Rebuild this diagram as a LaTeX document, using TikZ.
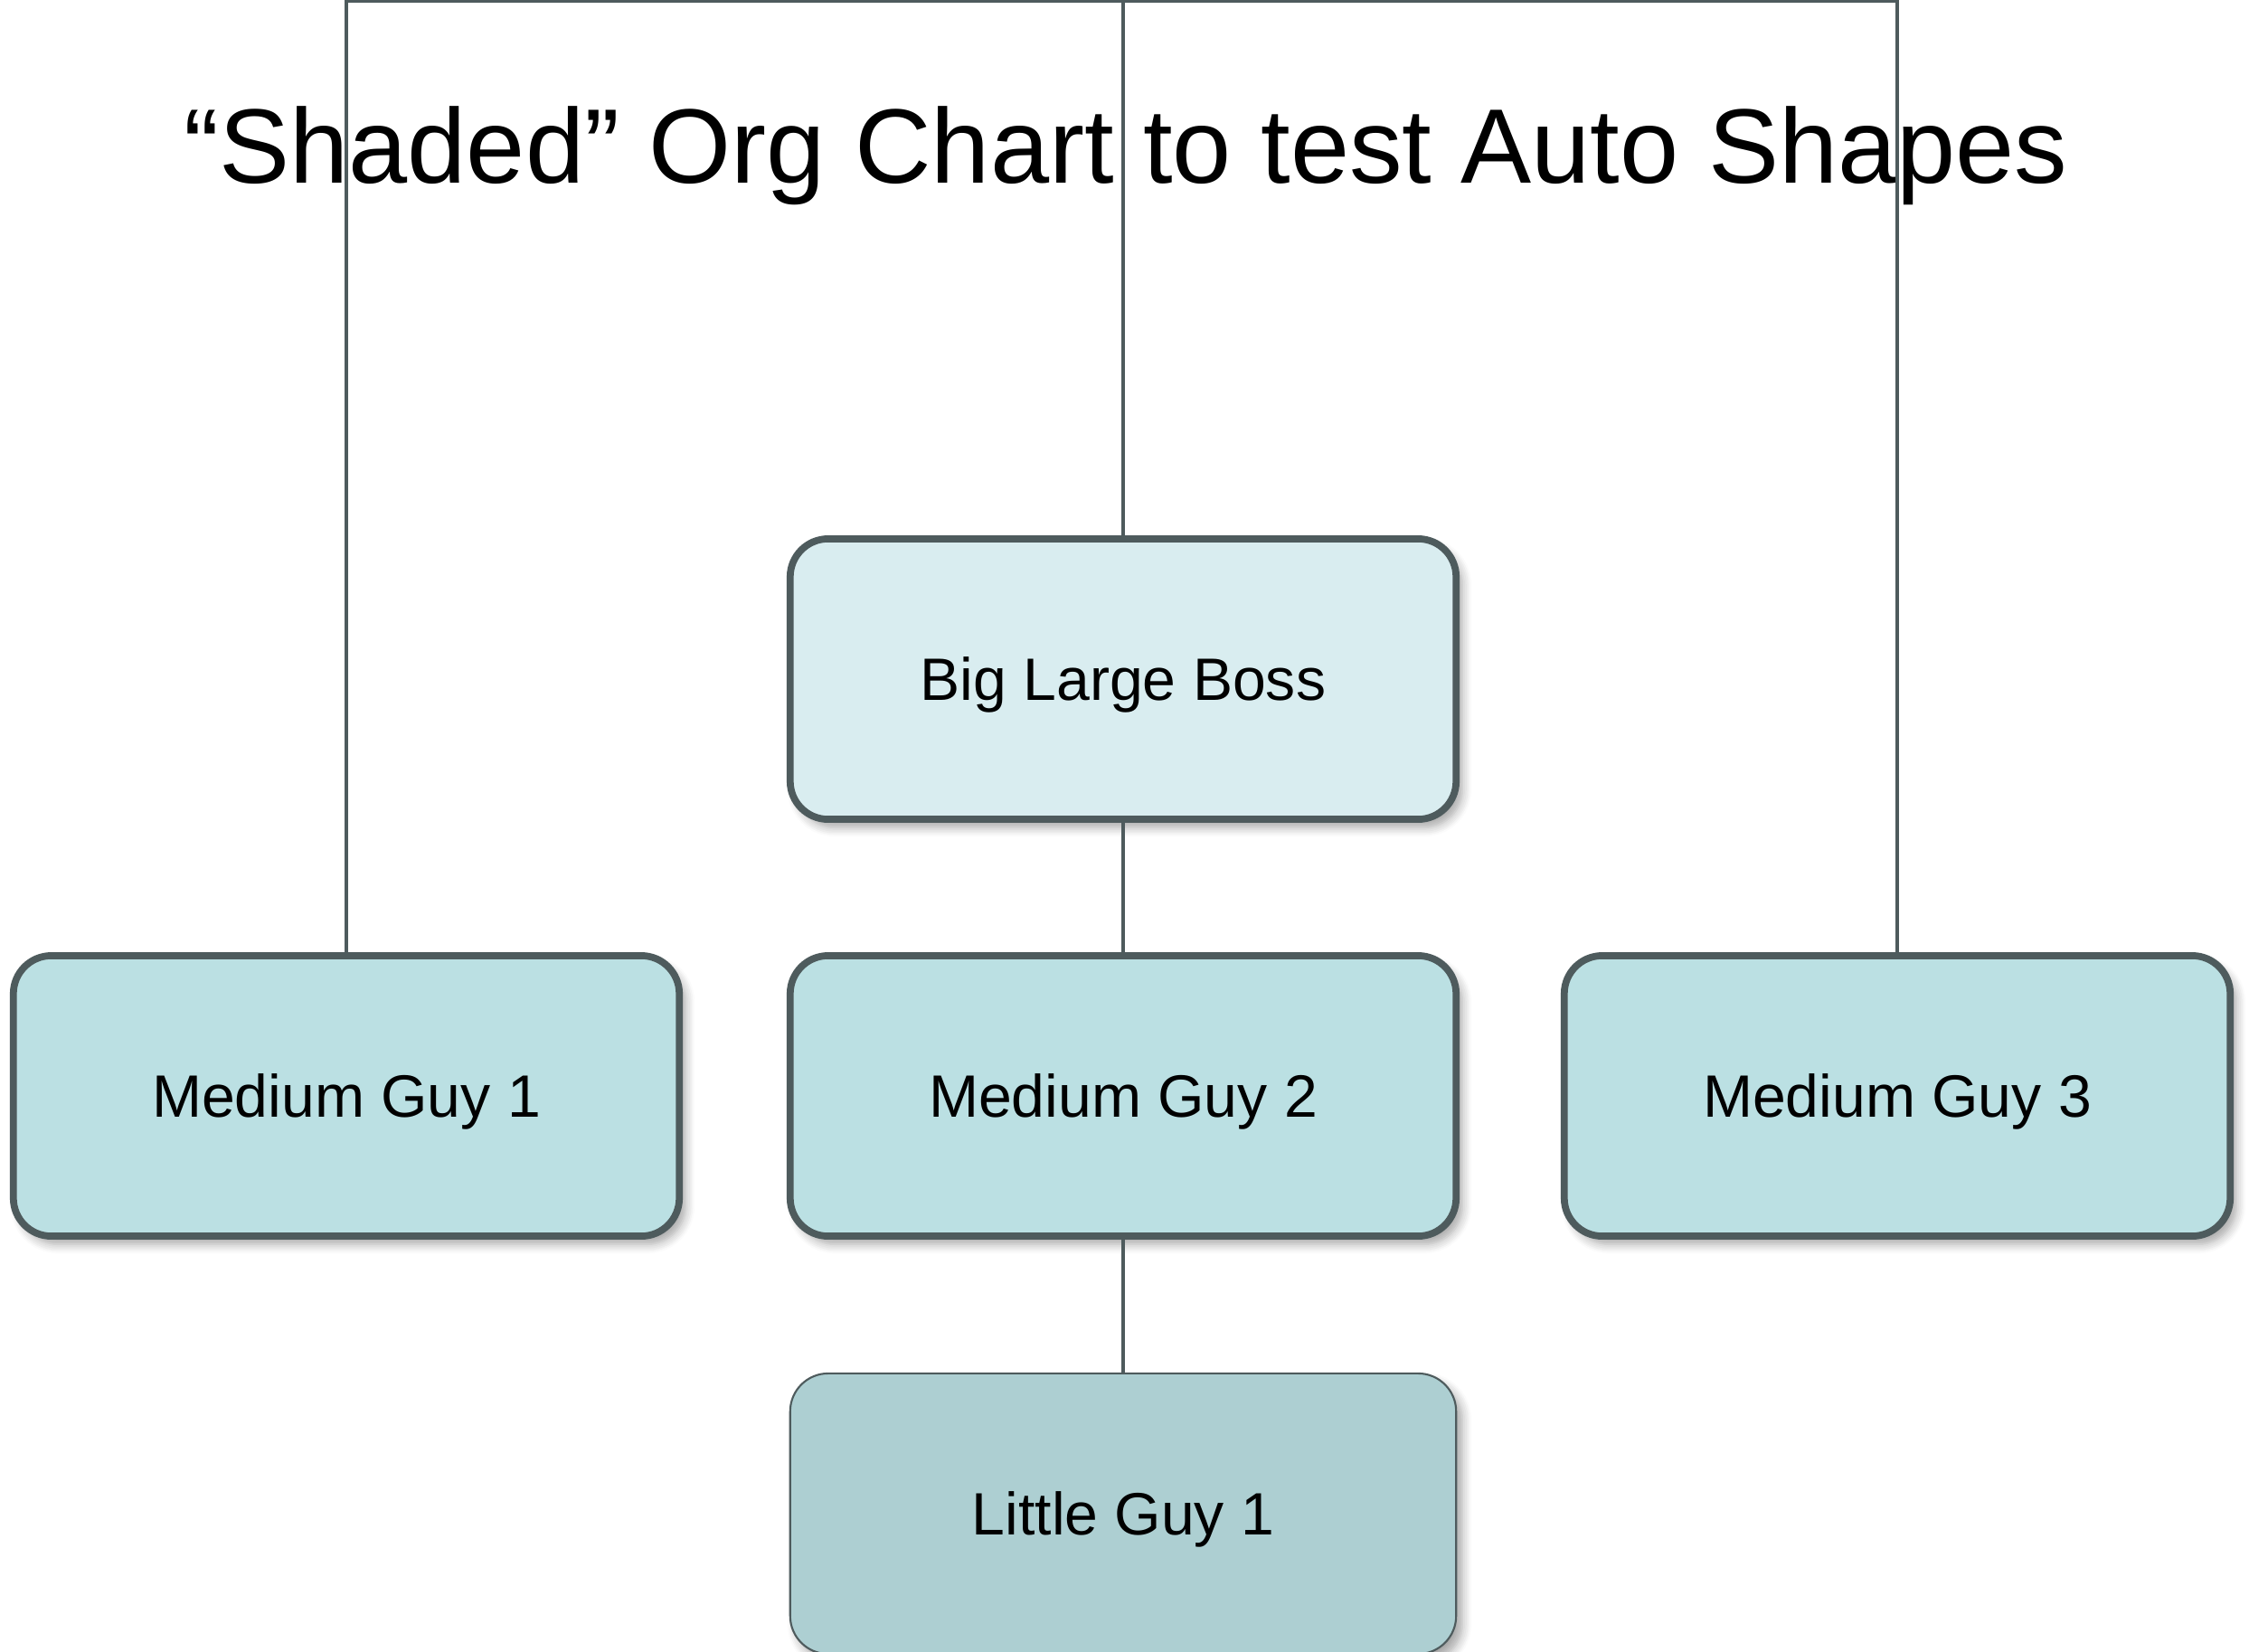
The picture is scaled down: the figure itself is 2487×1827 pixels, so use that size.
\documentclass[tikz,border=0pt]{standalone}
\usepackage{fontspec}
\setmainfont{Liberation Sans}
\usetikzlibrary{shadows.blur}
\definecolor{linec}{HTML}{4E5B5D}
\definecolor{bossfill}{HTML}{D9EDF0}
\definecolor{medfill}{HTML}{BBE0E3}
\definecolor{litfill}{HTML}{ADCFD2}
\tikzset{
  orgbox/.style={rectangle, rounded corners=0.42cm, draw=linec, line width=2.2pt,
    minimum width=7.36cm, minimum height=3.10cm, inner sep=0pt,
    text height=13.5pt, text depth=0pt,
    font=\fontsize{18.8}{22}\selectfont,
    blur shadow={shadow xshift=0.7mm, shadow yshift=-0.9mm, shadow blur radius=1.0mm, shadow blur steps=6, shadow opacity=35}},
  bossbox/.style={orgbox, fill=bossfill},
  medbox/.style={orgbox, fill=medfill},
  litbox/.style={orgbox, fill=litfill, line width=0.6pt},
  conn/.style={draw=linec, line width=1.3pt},
  titletext/.style={font=\fontsize{33.3}{40}\selectfont, inner sep=0pt, text height=23.8pt, text depth=0pt}
}
\begin{document}
\begin{tikzpicture}[x=0.01cm, y=-0.01cm]
\useasboundingbox (0,0) rectangle (2487,1827);
\node[titletext] (title) at (1245,161) {“Shaded” Org Chart to test Auto Shapes};
\node[bossbox] (boss) at (1242,751) {Big Large Boss};
\node[medbox] (mg1) at (383,1212) {Medium Guy 1};
\node[medbox] (mg2) at (1242,1212) {Medium Guy 2};
\node[medbox] (mg3) at (2098,1212) {Medium Guy 3};
\node[litbox] (lg1) at (1242,1674) {Little Guy 1};
\coordinate (tl) at (383,1);
\coordinate (tr) at (2098,1);
\draw[conn] (boss.north) |- (tl) -- (mg1.north);
\draw[conn] (boss.north) |- (tr) -- (mg3.north);
\draw[conn] (boss.south) -- (mg2.north);
\draw[conn] (mg2.south) -- (lg1.north);
\end{tikzpicture}
\end{document}
